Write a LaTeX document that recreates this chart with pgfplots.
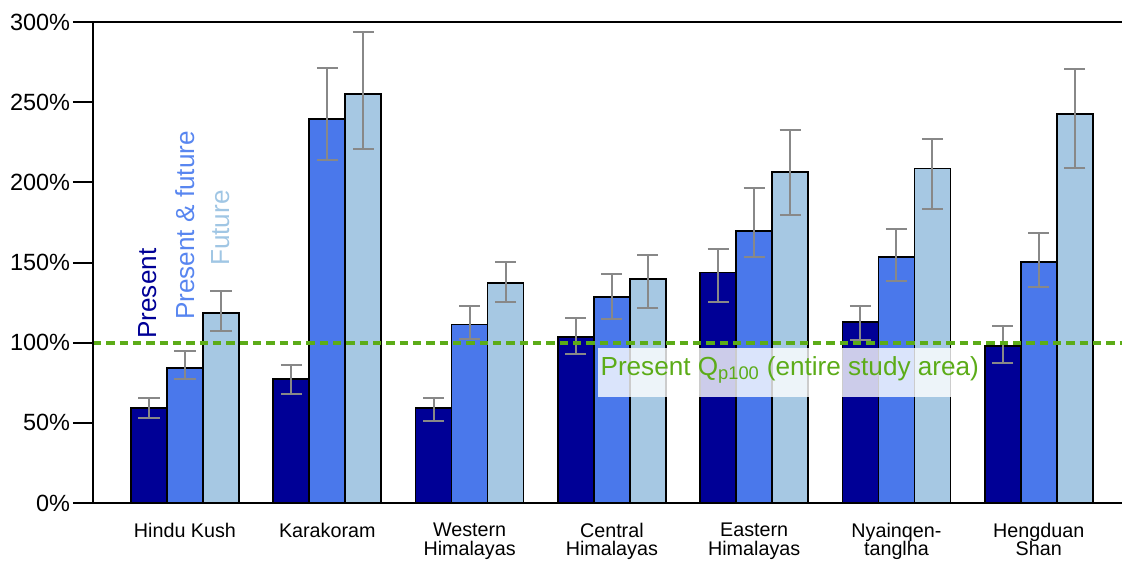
\documentclass[border=0pt]{standalone}
\usepackage{pgfplots}
\pgfplotsset{compat=1.18}
\usepackage{pgfplotstable}
\usepackage{fontspec}
\setmainfont{Liberation Sans}

\definecolor{cPres}{RGB}{0,0,150}
\definecolor{cBoth}{RGB}{74,120,235}
\definecolor{cFut}{RGB}{166,200,227}
\definecolor{cBothTxt}{RGB}{88,134,240}
\definecolor{cFutTxt}{RGB}{160,198,228}
\definecolor{cGreen}{RGB}{92,172,24}
\definecolor{cErr}{RGB}{136,136,136}

% region index, value, error above, error below (in % of present Qp100)
\pgfplotstableread{
x y ep em
0 59.1 6.2 6.3
1 77.3 8.8 9.3
2 59.1 6.2 7.8
3 103.7 11.9 11.0
4 143.7 14.5 18.3
5 112.7 10.2 11.0
6 97.9 12.7 10.4
}\present
\pgfplotstableread{
x y ep em
0 84.0 10.8 6.7
1 239.5 31.6 25.6
2 111.4 11.5 9.3
3 128.3 14.5 13.7
4 169.8 26.9 16.2
5 153.4 17.5 14.9
6 150.5 17.7 15.6
}\presfut
\pgfplotstableread{
x y ep em
0 118.3 13.9 11.0
1 255.1 38.9 34.3
2 137.0 13.1 11.8
3 139.7 15.0 17.9
4 206.6 26.0 26.8
5 208.7 18.1 25.5
6 242.6 28.1 33.5
}\future

\begin{document}
\begin{tikzpicture}
\begin{axis}[
  at={(0,0)}, anchor=south west,
  scale only axis,
  width=771.75pt, height=360.75pt,
  xmin=-0.6465, xmax=6.585,
  ymin=0, ymax=300,
  ybar, bar width=0.253,
  axis line style={draw=none},
  ytick={0,50,...,300},
  yticklabels={0\%,50\%,100\%,150\%,200\%,250\%,300\%},
  ytick pos=left,
  tick align=outside,
  major tick length=15pt,
  ytick style={line width=1.5pt, black},
  xtick={0,...,6},
  xticklabels={Hindu Kush, Karakoram, {Western\\Himalayas}, {Central\\Himalayas},
    {Eastern\\Himalayas}, {Nyainqen-\\tanglha}, {Hengduan\\Shan}},
  xtick style={draw=none},
  xticklabel style={align=center, anchor=north, inner sep=0pt, yshift=0pt,
    font=\fontsize{14.8}{13.8}\selectfont},
  yticklabel style={inner sep=2pt, font=\fontsize{17.6}{20}\selectfont},
  every axis plot/.append style={line width=1.3pt},
  error bars/y dir=both,
  error bars/y explicit,
  error bars/error bar style={cErr, line width=1.5pt},
  error bars/error mark options={cErr, line width=1.5pt, mark size=7.9pt, rotate=90},
  clip=false,
]
\addplot[draw=black, fill=cPres, bar shift=-0.253]
  table[x=x, y=y, y error plus=ep, y error minus=em]{\present};
\addplot[draw=black, fill=cBoth, bar shift=0]
  table[x=x, y=y, y error plus=ep, y error minus=em]{\presfut};
\addplot[draw=black, fill=cFut, bar shift=0.253]
  table[x=x, y=y, y error plus=ep, y error minus=em]{\future};

% reference level: present Qp100 of the whole study area
\addplot[sharp plot, no marks, cGreen, line width=3pt,
  dash pattern=on 6.2pt off 3.8pt, forget plot]
  coordinates {(-0.6465,100) (6.585,100)};

\node[anchor=base west, fill=white, fill opacity=0.8, text opacity=1,
  text=cGreen, inner xsep=2pt, inner ysep=0pt, text height=20pt, text depth=16.5pt,
  font=\fontsize{19.6}{22}\selectfont]
  at (axis cs:2.9,79.8) {Present Q\textsubscript{p100} (entire study area)};

\node[rotate=90, anchor=base west, inner sep=0pt, text=cPres,
  font=\fontsize{19.6}{22}\selectfont] at (axis cs:-0.197,102.3) {Present};
\node[rotate=90, anchor=base west, inner sep=0pt, text=cBothTxt,
  font=\fontsize{19.6}{22}\selectfont] at (axis cs:0.070,114.1) {Present \& future};
\node[rotate=90, anchor=base west, inner sep=0pt, text=cFutTxt,
  font=\fontsize{19.6}{22}\selectfont] at (axis cs:0.316,147.8) {Future};

\draw[line width=1.5pt, black] (rel axis cs:1,1) -- (rel axis cs:0,1)
  -- (rel axis cs:0,0) -- (rel axis cs:1,0);
\end{axis}
\pgfresetboundingbox
\useasboundingbox (-69.75pt,-44.25pt) rectangle (771.75pt,377.25pt);
\end{tikzpicture}
\end{document}
